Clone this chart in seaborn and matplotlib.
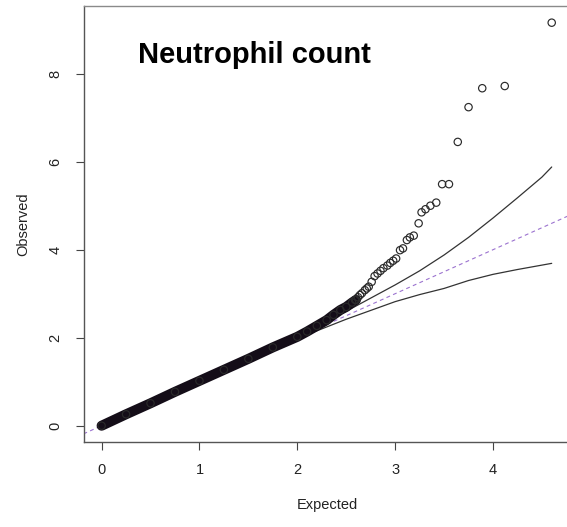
import numpy as np
import pandas as pd
import matplotlib
matplotlib.use("Agg")
import matplotlib.pyplot as plt
import seaborn as sns

# ---- data (Expected vs Observed -log10 p) ----
band_exp = [0.00, 0.25, 0.50, 0.75, 1.00, 1.25, 1.50, 1.75, 2.00, 2.10, 2.20, 2.30, 2.37, 2.44, 2.50, 2.56, 2.60]
band_obs = [0.00, 0.26, 0.51, 0.77, 1.02, 1.27, 1.52, 1.78, 2.02, 2.14, 2.27, 2.40, 2.52, 2.63, 2.70, 2.80, 2.86]

chain_exp = [2.59, 2.62, 2.64, 2.66, 2.69, 2.71, 2.73, 2.76, 2.79, 2.82, 2.85, 2.88, 2.92, 2.95, 2.98, 3.01]
chain_obs = [2.86, 2.92, 2.97, 3.01, 3.08, 3.12, 3.16, 3.27, 3.40, 3.46, 3.52, 3.58, 3.64, 3.70, 3.75, 3.80]

tail_exp = [3.05, 3.08, 3.12, 3.15, 3.19, 3.24, 3.27, 3.31, 3.36, 3.42, 3.48, 3.55, 3.64, 3.75, 3.89, 4.12, 4.60]
tail_obs = [3.99, 4.03, 4.22, 4.28, 4.32, 4.60, 4.85, 4.92, 5.00, 5.07, 5.49, 5.49, 6.45, 7.24, 7.67, 7.72, 9.16]

upper_exp = [1.50, 2.00, 2.50, 3.00, 3.25, 3.50, 3.75, 4.00, 4.25, 4.50, 4.60]
upper_obs = [1.51, 2.03, 2.60, 3.20, 3.52, 3.88, 4.28, 4.72, 5.18, 5.65, 5.88]
lower_exp = [1.50, 2.00, 2.50, 3.00, 3.25, 3.50, 3.75, 4.00, 4.25, 4.60]
lower_obs = [1.49, 1.98, 2.42, 2.82, 2.98, 3.12, 3.30, 3.44, 3.55, 3.69]

x_ticks = [0, 1, 2, 3, 4]
y_ticks = [0, 2, 4, 6, 8]
title = "Neutrophil count"

# ---- styling ----
sns.set_theme(style="white")
plt.rcParams['font.family'] = ['Liberation Sans', 'DejaVu Sans']

fig = plt.figure(figsize=(5.67, 5.27), dpi=100)
ax = fig.add_axes([83.5 / 567, 1 - 442.3 / 527, (570.3 - 83.5) / 567, (442.3 - 6) / 527])

# diagonal reference
ax.axline((0, 0), slope=1, color="#9b72cf", lw=0.8, ls=(0, (3.5, 3)), zorder=1)

# confidence band lines
sns.lineplot(x=upper_exp, y=upper_obs, ax=ax, color="#333333", lw=0.9, estimator=None, zorder=2)
sns.lineplot(x=lower_exp, y=lower_obs, ax=ax, color="#333333", lw=0.9, estimator=None, zorder=2)

# dense part of the points: solid band
sns.lineplot(x=band_exp, y=band_obs, ax=ax, color="#140d18", lw=7.2, estimator=None,
             solid_capstyle="round", zorder=3)

# individual circles
pts = pd.DataFrame({
    "Expected": band_exp + chain_exp + tail_exp,
    "Observed": band_obs + chain_obs + tail_obs,
})
sns.scatterplot(data=pts, x="Expected", y="Observed", ax=ax, marker="o", s=28, zorder=4)
coll = ax.collections[-1]
coll.set_facecolor("none")
coll.set_edgecolor("#2a2a2a")
coll.set_linewidth(0.85)

ax.set_xlim(-0.185, 4.79)
ax.set_ylim(-0.377, 9.539)

ax.set_xticks(x_ticks)
ax.set_yticks(y_ticks)
ax.set_xticklabels([str(t) for t in x_ticks])
ax.set_yticklabels([str(t) for t in y_ticks], rotation=90, va="center")
ax.tick_params(axis="both", which="both", direction="out", length=6, width=0.8,
               color="#444444", labelsize=10.5, labelcolor="#222222", pad=9,
               bottom=True, left=True)

for side in ["left", "bottom", "right"]:
    ax.spines[side].set_color("#555555")
    ax.spines[side].set_linewidth(1.0)
ax.spines["top"].set_color("#8a8a8a")
ax.spines["top"].set_linewidth(1.0)

ax.set_xlabel("Expected", fontsize=10.5, color="#222222", labelpad=15)
ax.set_ylabel("Observed", fontsize=10.5, color="#222222", labelpad=13)

ax.text(0.375, 8.42, title, fontsize=21, fontweight="bold", color="black",
        ha="left", va="center", family=["Liberation Sans", "DejaVu Sans"])

fig.savefig("out.png", dpi=100)
